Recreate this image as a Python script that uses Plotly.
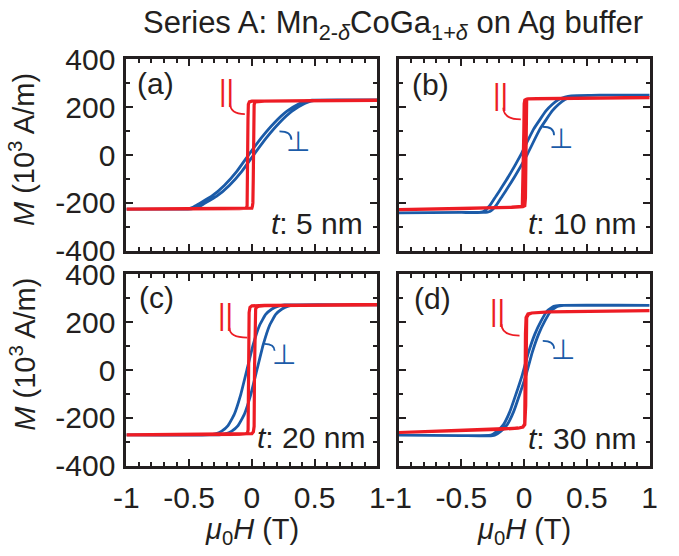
import plotly.graph_objects as go

# ---------------- data ----------------
# Panel (a) t = 5 nm
a_perp_H_down = [1.0, 0.7, 0.48, 0.43, 0.38, 0.28, 0.18, 0.08, -0.02, -0.12, -0.22, -0.32, -0.42, -0.47, -0.52, -0.6, -1.0]
a_perp_M_down = [230, 230, 229, 225, 215, 183, 135, 75, 5, -68, -127, -172, -203, -218, -225, -226, -226]
a_perp_H_up = [-1.0, -0.6, -0.48, -0.43, -0.38, -0.28, -0.18, -0.08, 0.02, 0.12, 0.22, 0.32, 0.42, 0.47, 0.52, 0.7, 1.0]
a_perp_M_up = [-226, -226, -225, -218, -203, -172, -127, -68, 5, 75, 135, 183, 215, 225, 229, 230, 230]
a_par_H_down = [1.0, 0.5, 0.1, 0.0, -0.02, -0.028, -0.031, -0.033, -0.035, -0.038, -0.045, -0.1, -0.5, -1.0]
a_par_M_down = [228, 228, 226, 225, 222, 212, 150, 0, -150, -212, -222, -224, -225, -226]
a_par_H_up = [-1.0, -0.5, -0.1, 0.0, 0.004, 0.008, 0.011, 0.013, 0.015, 0.018, 0.025, 0.1, 0.5, 1.0]
a_par_M_up = [-226, -225, -224, -222, -215, -200, -100, 0, 120, 210, 222, 225, 227, 228]

# Panel (b) t = 10 nm
b_perp_H_down = [1.0, 0.6, 0.375, 0.325, 0.275, 0.225, 0.175, 0.075, -0.025, -0.125, -0.175, -0.225, -0.275, -0.325, -0.375, -0.5, -1.0]
b_perp_M_down = [250, 250, 247, 242, 232, 212, 185, 108, 3, -90, -132, -172, -212, -236, -240, -240, -242]
b_perp_H_up = [-1.0, -0.5, -0.325, -0.275, -0.225, -0.175, -0.125, -0.075, 0.025, 0.125, 0.225, 0.275, 0.325, 0.375, 0.425, 0.6, 1.0]
b_perp_M_up = [-242, -240, -240, -236, -212, -172, -132, -90, 3, 108, 185, 212, 232, 242, 247, 250, 250]
b_par_H_down = [1.0, 0.5, 0.1, 0.02, 0.005, 0.0, -0.003, -0.005, -0.007, -0.01, -0.015, -0.1, -0.5, -1.0]
b_par_M_down = [240, 238, 236, 234, 230, 215, 100, 0, -100, -205, -214, -218, -224, -228]
b_par_H_up = [-1.0, -0.5, -0.1, -0.01, 0.005, 0.01, 0.012, 0.014, 0.016, 0.02, 0.03, 0.1, 0.5, 1.0]
b_par_M_up = [-228, -224, -219, -216, -212, -180, 0, 150, 220, 232, 235, 236, 238, 240]

# Panel (c) t = 20 nm
c_perp_H_down = [1.0, 0.3, 0.26, 0.21, 0.16, 0.11, 0.06, 0.01, -0.04, -0.09, -0.14, -0.19, -0.24, -0.29, -0.34, -1.0]
c_perp_M_down = [272, 272, 272, 267, 255, 232, 185, 105, 0, -105, -185, -232, -255, -267, -271, -271]
c_perp_H_up = [-1.0, -0.3, -0.26, -0.21, -0.16, -0.11, -0.06, -0.01, 0.04, 0.09, 0.14, 0.19, 0.24, 0.29, 0.34, 1.0]
c_perp_M_up = [-271, -271, -271, -267, -255, -232, -185, -105, 0, 105, 185, 232, 255, 267, 272, 272]
c_par_H_down = [1.0, 0.5, 0.1, 0.0, -0.015, -0.022, -0.025, -0.027, -0.03, -0.035, -0.05, -0.1, -0.5, -1.0]
c_par_M_down = [272, 272, 270, 268, 262, 240, 0, -200, -250, -262, -267, -269, -271, -271]
c_par_H_up = [-1.0, -0.5, -0.1, 0.0, 0.012, 0.018, 0.021, 0.024, 0.03, 0.04, 0.06, 0.1, 0.5, 1.0]
c_par_M_up = [-271, -271, -269, -266, -258, -235, 0, 220, 255, 263, 267, 269, 271, 272]

# Panel (d) t = 30 nm
d_perp_H_down = [1.0, 0.5, 0.285, 0.235, 0.185, 0.135, 0.085, 0.035, -0.015, -0.065, -0.115, -0.165, -0.215, -0.265, -0.5, -1.0]
d_perp_M_down = [270, 271, 270, 266, 248, 205, 150, 75, -20, -100, -175, -228, -255, -272, -274, -272]
d_perp_H_up = [-1.0, -0.5, -0.285, -0.235, -0.185, -0.135, -0.085, -0.035, 0.015, 0.065, 0.115, 0.165, 0.215, 0.265, 0.315, 0.5, 1.0]
d_perp_M_up = [-272, -274, -275, -272, -255, -228, -175, -100, -20, 75, 150, 205, 248, 266, 270, 271, 270]
d_par_H_down = [1.0, 0.5, 0.2, 0.06, 0.03, 0.015, 0.01, 0.008, 0.006, 0.004, -0.01, -0.05, -0.2, -0.5, -1.0]
d_par_M_down = [248, 246, 243, 238, 234, 220, 150, 0, -180, -225, -238, -243, -248, -253, -261]
d_par_H_up = [-1.0, -0.5, -0.2, -0.05, -0.01, 0.005, 0.012, 0.014, 0.016, 0.02, 0.035, 0.06, 0.2, 0.5, 1.0]
d_par_M_up = [-261, -253, -248, -243, -238, -228, -150, 0, 180, 220, 233, 238, 243, 246, 248]

panel_letters = ["(a)", "(b)", "(c)", "(d)"]
thickness_labels = ["5 nm", "10 nm", "20 nm", "30 nm"]

x_tickvals = [-1, -0.5, 0, 0.5, 1]
x_ticktext = ["-1", "-0.5", "0", "0.5", "1"]
y_tickvals = [-400, -200, 0, 200, 400]
y_ticktext = ["-400", "-200", "0", "200", "400"]

title_text = "Series A: Mn<sub>2-<i>δ</i></sub>CoGa<sub>1+<i>δ</i></sub> on Ag buffer"
x_title = "<i>μ</i><sub>0</sub><i>H</i> (T)"
y_title = "<i>M</i> (10<sup>3</sup> A/m)"

# ---------------- styling ----------------
RED = "#ED1C24"
BLUE = "#1B5BA8"
FRAME = "#231F20"
FONT = "Liberation Sans, Arial, sans-serif"
W, H = 679, 556

perp_down = [(a_perp_H_down, a_perp_M_down), (b_perp_H_down, b_perp_M_down),
             (c_perp_H_down, c_perp_M_down), (d_perp_H_down, d_perp_M_down)]
perp_up = [(a_perp_H_up, a_perp_M_up), (b_perp_H_up, b_perp_M_up),
           (c_perp_H_up, c_perp_M_up), (d_perp_H_up, d_perp_M_up)]
par_down = [(a_par_H_down, a_par_M_down), (b_par_H_down, b_par_M_down),
            (c_par_H_down, c_par_M_down), (d_par_H_down, d_par_M_down)]
par_up = [(a_par_H_up, a_par_M_up), (b_par_H_up, b_par_M_up),
          (c_par_H_up, c_par_M_up), (d_par_H_up, d_par_M_up)]

# pixel boxes of the four plot areas (left, right, top, bottom)
boxes = [(117, 376, 45, 249), (398, 657, 45, 249), (117, 376, 274, 478), (398, 657, 274, 478)]

fig = go.Figure()
layout = {}
for i in range(4):
    sfx = "" if i == 0 else str(i + 1)
    xa, ya = "x" + sfx, "y" + sfx
    hx, my = perp_down[i]
    hx2, my2 = perp_up[i]
    fig.add_trace(go.Scatter(x=list(hx) + list(hx2), y=list(my) + list(my2), mode="lines",
                             line=dict(color=BLUE, width=2.8, shape="spline", smoothing=0.4),
                             xaxis=xa, yaxis=ya, showlegend=False, hoverinfo="skip"))
    hx, my = par_down[i]
    hx2, my2 = par_up[i]
    fig.add_trace(go.Scatter(x=list(hx) + list(hx2), y=list(my) + list(my2), mode="lines",
                             line=dict(color=RED, width=3.2),
                             xaxis=xa, yaxis=ya, showlegend=False, hoverinfo="skip"))
    l, r, t, b = boxes[i]
    common = dict(showline=True, linewidth=3, linecolor=FRAME, mirror="allticks",
                  ticks="inside", ticklen=7, tickwidth=2, tickcolor=FRAME,
                  showgrid=False, zeroline=False,
                  tickfont=dict(family=FONT, size=30, color="#231F20"))
    layout["xaxis" + sfx] = dict(common, domain=[l / W, r / W], range=[-1, 1],
                                 tickmode="array", tickvals=x_tickvals, ticktext=x_ticktext,
                                 showticklabels=(i >= 2), anchor=ya, ticklabelstandoff=3,
                                 minor=dict(tickmode="linear", tick0=0, dtick=0.1, ticks="inside",
                                            ticklen=4, tickwidth=1.5, tickcolor=FRAME))
    layout["yaxis" + sfx] = dict(common, domain=[1 - b / H, 1 - t / H], range=[-400, 400],
                                 tickmode="array", tickvals=y_tickvals, ticktext=y_ticktext,
                                 showticklabels=(i % 2 == 0), anchor=xa, ticklabelstandoff=2,
                                 minor=dict(tickmode="linear", tick0=0, dtick=100, ticks="inside",
                                            ticklen=4, tickwidth=1.5, tickcolor=FRAME))

# annotation positions (data coords in each panel)
par_sym_pos = [(-0.202, 269), (-0.19, 250), (-0.208, 231), (-0.21, 245)]
perp_sym_pos = [(0.367, 55), (0.297, 70), (0.253, 65), (0.309, 86)]
par_leader = [((-0.174, 216), (-0.174, 171), (-0.056, 171)),
              ((-0.166, 197), (-0.166, 149), (-0.027, 149)),
              ((-0.179, 176), (-0.179, 135), (-0.037, 135)),
              ((-0.181, 192), (-0.181, 144), (-0.037, 144))]
perp_leader = [((0.220, 99), (0.315, 99), (0.315, 64)),
               ((0.148, 118), (0.238, 118), (0.238, 83)),
               ((0.099, 109), (0.181, 109), (0.181, 80)),
               ((0.148, 122), (0.238, 122), (0.238, 89))]
letter_pos = [(-0.93, 300), (-0.91, 295), (-0.915, 302), (-0.895, 298)]
thick_pos = [(0.90, -288), (0.907, -288), (0.915, -284), (0.907, -288)]

annotations = []
shapes = []
for i in range(4):
    sfx = "" if i == 0 else str(i + 1)
    xa, ya = "x" + sfx, "y" + sfx
    annotations.append(dict(x=letter_pos[i][0], y=letter_pos[i][1], xref=xa, yref=ya,
                            text=panel_letters[i], showarrow=False, xanchor="left", yanchor="middle",
                            font=dict(family=FONT, size=30, color="#231F20")))
    annotations.append(dict(x=thick_pos[i][0], y=thick_pos[i][1], xref=xa, yref=ya,
                            text="<i>t</i>: " + thickness_labels[i], showarrow=False,
                            xanchor="right", yanchor="middle",
                            font=dict(family=FONT, size=30, color="#231F20")))
    annotations.append(dict(x=par_sym_pos[i][0], y=par_sym_pos[i][1], xref=xa, yref=ya,
                            text="||", showarrow=False, xanchor="center", yanchor="middle",
                            font=dict(family=FONT, size=29, color=RED)))
    annotations.append(dict(x=perp_sym_pos[i][0], y=perp_sym_pos[i][1], xref=xa, yref=ya,
                            text="⊥", showarrow=False, xanchor="center", yanchor="middle",
                            font=dict(family="DejaVu Sans", size=28, color=BLUE)))
    for (p0, pc, p1), col in [(par_leader[i], RED), (perp_leader[i], BLUE)]:
        shapes.append(dict(type="path", xref=xa, yref=ya,
                           path=f"M {p0[0]},{p0[1]} Q {pc[0]},{pc[1]} {p1[0]},{p1[1]}",
                           line=dict(color=col, width=1.8)))

# figure title and axis titles
annotations.append(dict(x=392 / W, y=1 - 9 / H, xref="paper", yref="paper", text=title_text,
                        showarrow=False, xanchor="center", yanchor="middle",
                        font=dict(family=FONT, size=31, color="#231F20")))
for cx in [(117 + 376) / 2, (398 + 657) / 2]:
    annotations.append(dict(x=cx / W, y=1 - 547 / H, xref="paper", yref="paper", text=x_title,
                            showarrow=False, xanchor="center", yanchor="middle",
                            font=dict(family=FONT, size=29, color="#231F20")))
for cy in [141, 359]:
    annotations.append(dict(x=10 / W, y=1 - cy / H, xref="paper", yref="paper", text=y_title,
                            showarrow=False, xanchor="center", yanchor="middle", textangle=-90,
                            font=dict(family=FONT, size=29, color="#231F20")))

fig.update_layout(width=W, height=H, margin=dict(l=0, r=0, t=0, b=0),
                  paper_bgcolor="white", plot_bgcolor="white",
                  annotations=annotations, shapes=shapes, **layout)
fig.write_html("out.html")
